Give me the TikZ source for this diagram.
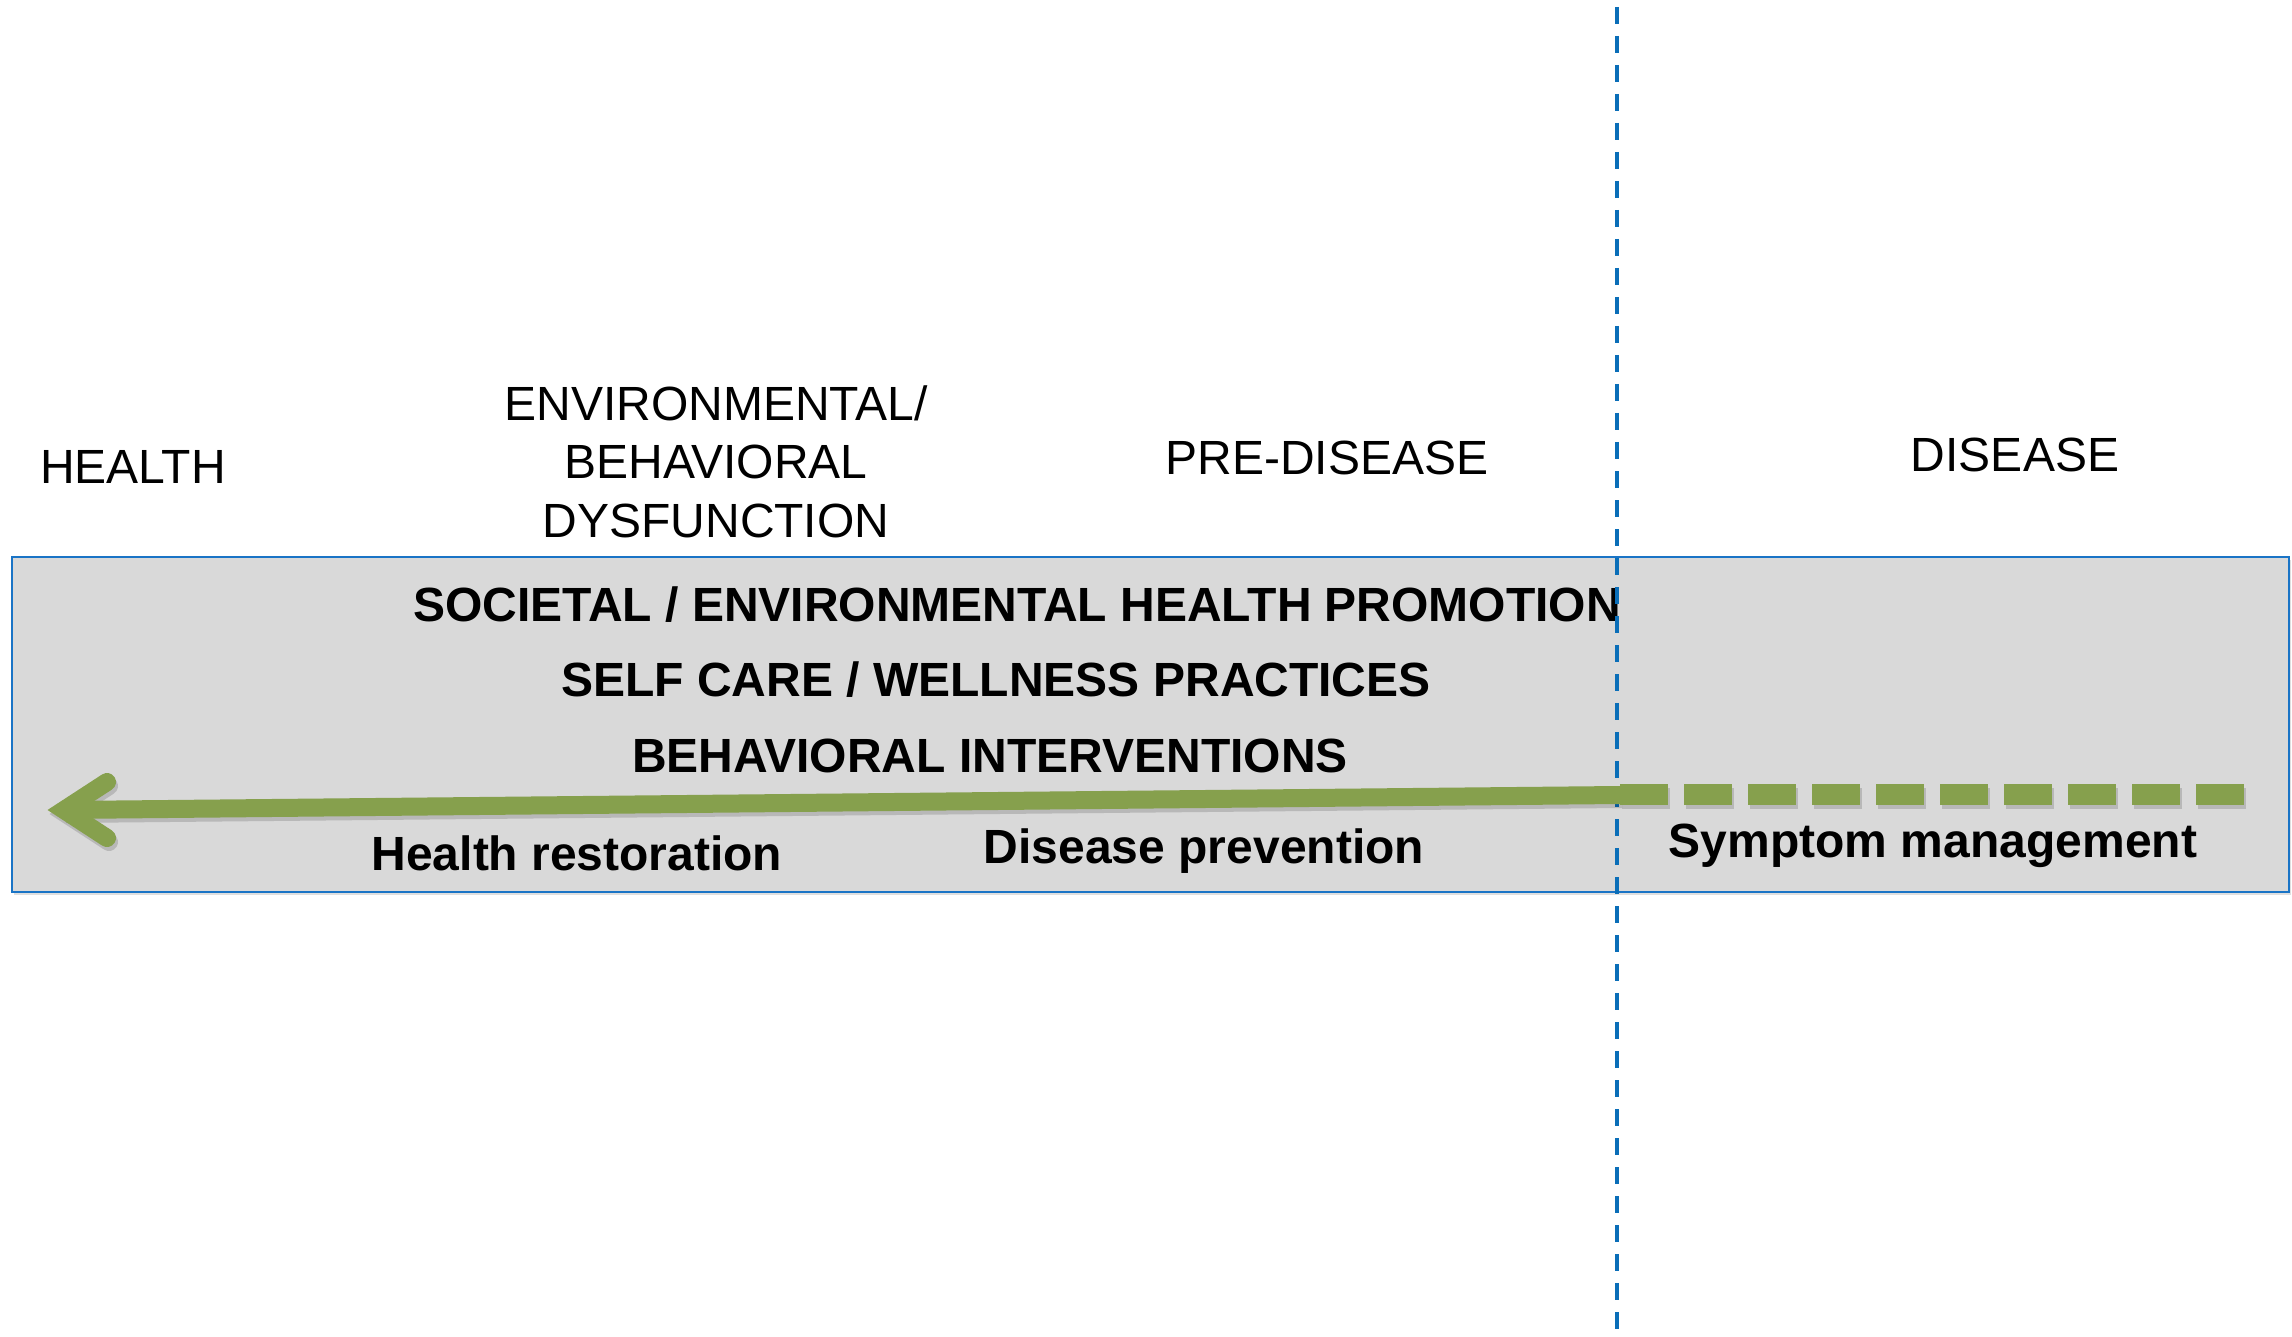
\documentclass[tikz,border=0pt]{standalone}
\usepackage{fontspec}
\setmainfont{Liberation Sans}
\usetikzlibrary{shadows}
\definecolor{boxfill}{HTML}{D9D9D9}
\definecolor{boxline}{HTML}{1A74C6}
\definecolor{vlinecol}{HTML}{0A6EB8}
\definecolor{arrowgreen}{HTML}{86A04D}
\begin{document}
\begin{tikzpicture}[x=1pt,y=-1pt,
  lbl/.style={font=\fontsize{48}{58.5}\selectfont, inner sep=0pt, anchor=base, align=center},
  blbl/.style={font=\fontsize{48}{58.5}\selectfont\bfseries, inner sep=0pt, anchor=base},
  band/.style={draw=boxline, line width=2.8pt, fill=boxfill, inner sep=0pt,
    drop shadow={opacity=0.25, shadow xshift=2pt, shadow yshift=-3pt}},
  divider/.style={draw=vlinecol, line width=4pt, dash pattern=on 17pt off 12pt},
  shaft/.style={draw=arrowgreen, line width=18pt},
  shaftdash/.style={draw=arrowgreen, line width=21pt, dash pattern=on 48pt off 16pt},
  head/.style={draw=arrowgreen, line width=18pt, line cap=round, line join=miter},
  shade/.style={draw=black, opacity=0.15}
]
\useasboundingbox (0,0) rectangle (2292,1337);

% band
\node[band, minimum width=2277pt, minimum height=335pt] (bandbox) at (1150.5,724.5) {};

% column headings
\node[lbl] (health) at (133,483) {HEALTH};
\node[lbl, anchor=center] (envdys) at (716,461.5) {ENVIRONMENTAL/\\BEHAVIORAL\\DYSFUNCTION};
\node[lbl] (predisease) at (1327,474) {PRE-DISEASE};
\node[lbl] (disease) at (2015,471) {DISEASE};

% band texts
\node[blbl] (societal) at (1017,621) {SOCIETAL / ENVIRONMENTAL HEALTH PROMOTION};
\node[blbl] (selfcare) at (996,696) {SELF CARE / WELLNESS PRACTICES};
\node[blbl] (behav) at (990,772) {BEHAVIORAL INTERVENTIONS};
\node[blbl] (restore) at (577,870) {Health restoration};
\node[blbl] (prevent) at (1204,863) {Disease prevention};
\node[blbl] (symptom) at (1933,857) {Symptom management};

% vertical divider
\coordinate (vtop) at (1617,7);
\coordinate (vbot) at (1617,1337);
\draw[divider] (vtop) -- (vbot);

% green arrow
\coordinate (sstart) at (1620,795);
\coordinate (tip) at (64,810);
\coordinate (dstart) at (1620,794);
\coordinate (dend) at (2244,794);

% soft shadows
\draw[shade, line width=18pt] ([shift={(2,4)}]sstart) -- ([shift={(2,4)}]tip);
\draw[shade, line width=21pt, dash pattern=on 48pt off 16pt] ([shift={(2,4)}]dstart) -- ([shift={(2,4)}]dend);
\draw[shade, line width=18pt, line cap=round] ([shift={(45,-24)}]tip) -- ([shift={(2,4)}]tip) -- ([shift={(45,32)}]tip);

\draw[shaft] (sstart) -- (tip);
\draw[shaftdash] (dstart) -- (dend);
\draw[head] ([shift={(43,-28)}]tip) -- (tip) -- ([shift={(43,28)}]tip);
\end{tikzpicture}
\end{document}
